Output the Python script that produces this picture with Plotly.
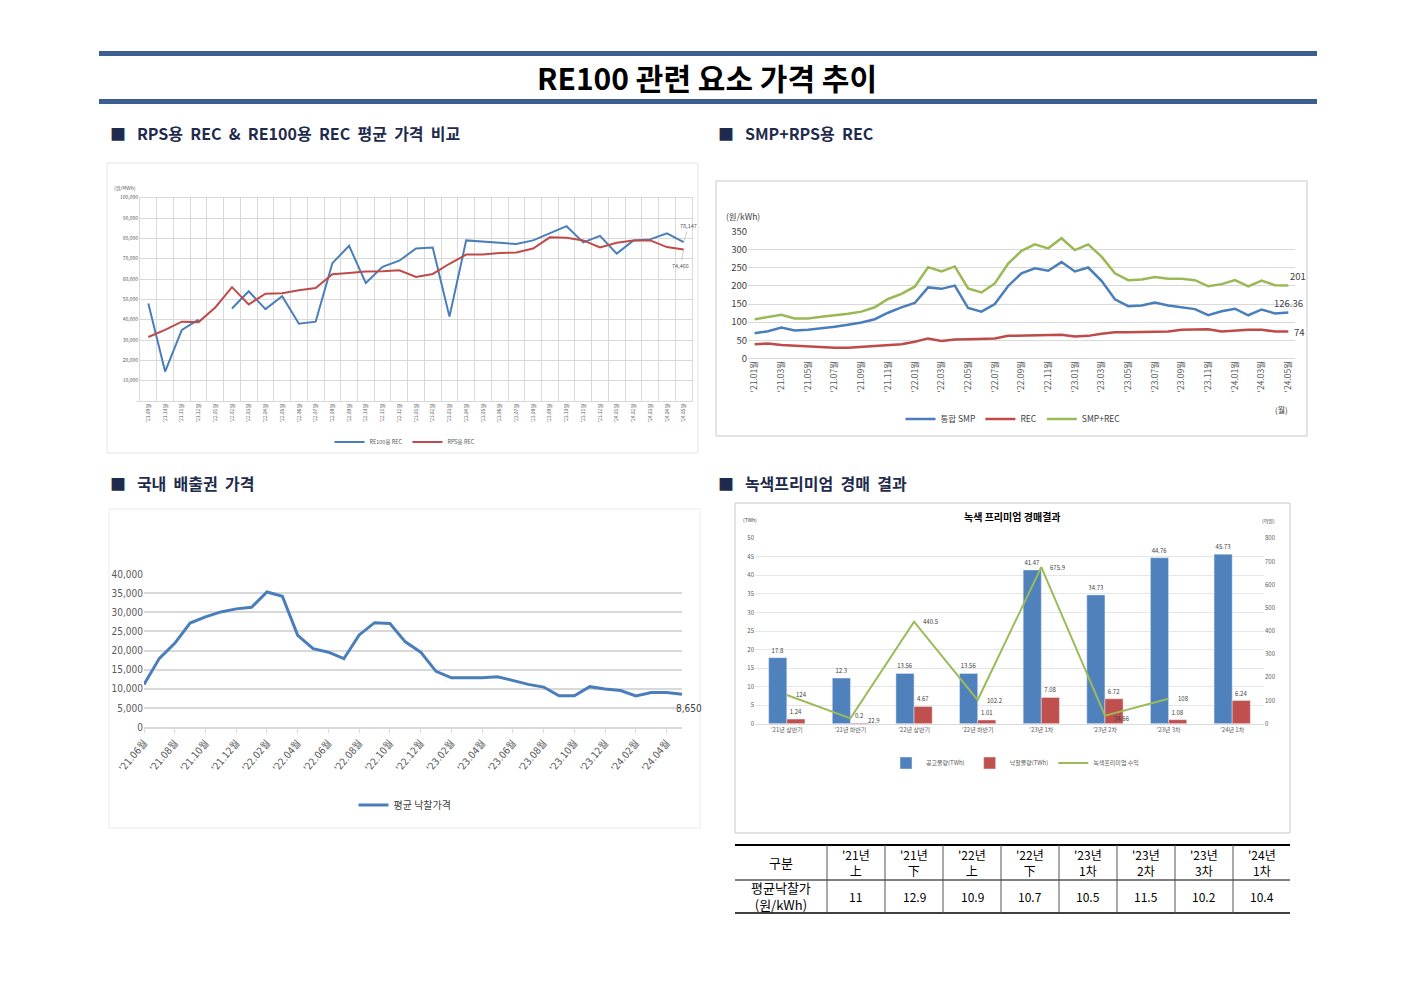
import plotly.graph_objects as go

W, H = 1403, 992


def fx(x):
    return x / W


def fy(y):
    return 1 - y / H


def month_labels(year, month, n, suffix="월"):
    out = []
    for i in range(n):
        out.append("'%02d.%02d%s" % (year, month, suffix))
        month += 1
        if month > 12:
            month = 1
            year += 1
    return out


# --- RPS용 REC & RE100용 REC (원/MWh), '21.09 ~ '24.05
rec_months = month_labels(21, 9, 33)
rec_re100 = [48000, 14500, 35000, 40000, None, 45500, 54000, 45200, 51500, 38000,
             39000, 67800, 76300, 58000, 66000, 69000, 75000, 75500, 41500, 79000,
             78500, 77800, 77200, 79000, 82500, 86000, 78000, 81200, 72500, 79000,
             79500, 82500, 78147]
rec_rps = [31500, 35000, 39000, 38800, 46000, 56000, 47500, 52800, 53000, 54500,
           55600, 62300, 63000, 63700, 63800, 64300, 61000, 62500, 67500, 72000,
           72000, 72800, 73000, 75000, 80500, 80300, 79000, 75500, 77800, 79000,
           79000, 75700, 74466]

# --- SMP + RPS REC (원/kWh), '21.01 ~ '24.05
smp_months = month_labels(21, 1, 41)
smp = [69, 75, 85, 77, 79, 82, 87, 93, 99, 108,
       126, 141, 153, 196, 192, 201, 139, 129, 150, 200,
       235, 249, 242, 266, 240, 251, 214, 163, 144, 146,
       154, 146, 141, 136, 119, 130, 137, 119, 135, 124, 126.36]
rec_price = [39, 41, 37, 35, 32, 32, 29, 29, 32, 34,
             38, 39, 46, 55, 48, 52, 53, 54, 55, 62,
             63, 63, 63, 65, 60, 62, 68, 72, 72, 72,
             72, 74, 79, 79, 80, 74, 77, 79, 79, 74, 74]
smp_rec = [108, 115, 120, 110, 110, 115, 118, 123, 129, 141,
           164, 178, 198, 252, 240, 254, 193, 182, 207, 262,
           297, 315, 304, 332, 299, 315, 281, 235, 216, 218,
           225, 220, 220, 216, 199, 205, 216, 199, 215, 202, 201]

# --- 국내 배출권 평균 낙찰가격, '21.06 ~ '24.05
kau_months = month_labels(21, 6, 36)
kau_price = [11200, 18000, 21900, 27200, 28800, 30100, 30900, 31300, 35300, 34200,
             24000, 20500, 19600, 17900, 24100, 27300, 27100, 22300, 19600, 14600,
             12900, 12900, 12900, 13200, 12100, 11200, 10500, 8200, 8200, 10600,
             10000, 9600, 8200, 9100, 9100, 8650]

# --- 녹색프리미엄 경매결과
gp_rounds = ["'21년 상반기", "'21년 하반기", "'22년 상반기", "'22년 하반기",
             "'23년 1차", "'23년 2차", "'23년 3차", "'24년 1차"]
gp_notice = [17.8, 12.3, 13.56, 13.56, 41.47, 34.73, 44.76, 45.73]
gp_awarded = [1.24, 0.2, 4.67, 1.01, 7.08, 6.72, 1.08, 6.24]
gp_revenue = [124, 22.9, 440.5, 102.2, 675.9, 34.66, 108, None]

# table under the green premium chart
tbl_corner = "구분"
tbl_row = "평균낙찰가<br>(원/kWh)"
tbl_head = ["'21년<br>上", "'21년<br>下", "'22년<br>上", "'22년<br>下",
            "'23년<br>1차", "'23년<br>2차", "'23년<br>3차", "'24년<br>1차"]
tbl_price = [11, 12.9, 10.9, 10.7, 10.5, 11.5, 10.2, 10.4]

FONT = "Noto Sans CJK KR"
NARROW = "Liberation Sans Narrow, DejaVu Sans Condensed, Noto Sans CJK KR"
BLUE = "#4a7ebb"
RED = "#be4b48"
GREEN = "#98b954"
NAVY = "#1f2b4d"
GRID = "#d9d9d9"
TICK = "#595959"

fig = go.Figure()

# top-left
fig.add_trace(go.Scatter(x=rec_months, y=rec_re100, name="RE100용 REC", mode="lines",
                         line=dict(color=BLUE, width=2), connectgaps=False,
                         xaxis="x", yaxis="y", legend="legend"))
fig.add_trace(go.Scatter(x=rec_months, y=rec_rps, name="RPS용 REC", mode="lines",
                         line=dict(color=RED, width=2),
                         xaxis="x", yaxis="y", legend="legend"))

# top-right
fig.add_trace(go.Scatter(x=smp_months, y=smp, name="통합 SMP", mode="lines",
                         line=dict(color=BLUE, width=2.5),
                         xaxis="x2", yaxis="y2", legend="legend2"))
fig.add_trace(go.Scatter(x=smp_months, y=rec_price, name="REC", mode="lines",
                         line=dict(color=RED, width=2.5),
                         xaxis="x2", yaxis="y2", legend="legend2"))
fig.add_trace(go.Scatter(x=smp_months, y=smp_rec, name="SMP+REC", mode="lines",
                         line=dict(color=GREEN, width=2.5),
                         xaxis="x2", yaxis="y2", legend="legend2"))

# bottom-left
fig.add_trace(go.Scatter(x=kau_months, y=kau_price, name="평균 낙찰가격", mode="lines",
                         line=dict(color=BLUE, width=3),
                         xaxis="x3", yaxis="y3", legend="legend3"))

# bottom-right
fig.add_trace(go.Bar(x=gp_rounds, y=gp_notice, name="공고물량(TWh)",
                     marker=dict(color="#4f81bd"), text=gp_notice, textposition="outside",
                     textfont=dict(size=6, color="#404040"), cliponaxis=False,
                     xaxis="x4", yaxis="y4", legend="legend4"))
fig.add_trace(go.Bar(x=gp_rounds, y=gp_awarded, name="낙찰물량(TWh)",
                     marker=dict(color="#c0504d"), text=gp_awarded, textposition="outside",
                     textfont=dict(size=6, color="#404040"), cliponaxis=False,
                     xaxis="x4", yaxis="y4", legend="legend4"))
fig.add_trace(go.Scatter(x=gp_rounds, y=gp_revenue, name="녹색프리미엄 수익", mode="lines",
                         line=dict(color="#9bbb59", width=2),
                         xaxis="x4", yaxis="y5", legend="legend4"))

ann = []
# page title and section headers
ann.append(dict(text="<b>RE100 관련 요소 가격 추이</b>", x=fx(707), y=fy(77),
                font=dict(size=30, color="black")))
sections = [("■   RPS용  REC  &  RE100용  REC  평균  가격  비교", 108, 133),
            ("■   SMP+RPS용  REC", 716, 133),
            ("■   국내  배출권  가격", 108, 483),
            ("■   녹색프리미엄  경매  결과", 716, 483)]
for txt, x, y in sections:
    ann.append(dict(text="<b>" + txt.replace("  ", "\u00a0\u00a0") + "</b>", x=fx(x), y=fy(y),
                    xanchor="left", font=dict(size=16, color=NAVY)))

# units and small labels
ann.append(dict(text="(원/MWh)", x=fx(112), y=fy(188), xanchor="left", font=dict(size=5, color=TICK)))
ann.append(dict(text="(원/kWh)", x=fx(724), y=fy(216), xanchor="left", font=dict(size=8.5, color="#404040")))
ann.append(dict(text="(월)", x=fx(1281), y=fy(409), font=dict(size=8, color="#404040")))
ann.append(dict(text="(TWh)", x=fx(741), y=fy(519), xanchor="left", font=dict(size=5, color="#404040")))
ann.append(dict(text="(억원)", x=fx(1268), y=fy(521), font=dict(size=5, color="#404040")))
ann.append(dict(text="<b>녹색 프리미엄 경매결과</b>", x=fx(1012), y=fy(516),
                font=dict(size=10, color="black")))

# green premium revenue labels, right of each point
rev_xshift = [7, 16, 7, 7, 7, 7, 7, 7]
rev_yshift = [0, -2, 0, 0, 0, -3, 0, 0]
for cat, v, dx, dy in zip(gp_rounds, gp_revenue, rev_xshift, rev_yshift):
    if v is None:
        continue
    ann.append(dict(text=str(v), x=cat, y=v, xref="x4", yref="y5", xanchor="left",
                    xshift=dx, yshift=dy, font=dict(size=6, color="#404040")))

# end-of-series labels
ann.append(dict(text=f"{rec_re100[-1]:,}", x=rec_months[-1], y=rec_re100[-1], xref="x", yref="y",
                showarrow=True, arrowhead=0, arrowwidth=0.6, arrowcolor="#a6a6a6",
                ax=5, ay=-16, font=dict(size=5.5, color=TICK)))
ann.append(dict(text=f"{rec_rps[-1]:,}", x=rec_months[-1], y=rec_rps[-1], xref="x", yref="y",
                showarrow=True, arrowhead=0, arrowwidth=0.6, arrowcolor="#a6a6a6",
                ax=-3, ay=16, font=dict(size=5.5, color=TICK)))
ann.append(dict(text=str(smp_rec[-1]), x=smp_months[-1], y=smp_rec[-1], xref="x2", yref="y2",
                xanchor="left", xshift=0, yshift=10, font=dict(size=9.5, color="#404040")))
ann.append(dict(text=str(smp[-1]), x=smp_months[-1], y=smp[-1], xref="x2", yref="y2",
                yshift=10, font=dict(size=9.5, color="#404040")))
ann.append(dict(text=str(rec_price[-1]), x=smp_months[-1], y=rec_price[-1], xref="x2", yref="y2",
                xanchor="left", xshift=4, font=dict(size=9.5, color="#404040")))
ann.append(dict(text=f"{kau_price[-1]:,}", x=kau_months[-1], y=kau_price[-1], xref="x3", yref="y3",
                xshift=7, yshift=-14, font=dict(size=10, family=NARROW, color="#404040")))

# table text: first column 735-827, then 8 columns of 58 px
col_w = 58
col0 = 827
ann.append(dict(text=tbl_corner, x=fx(781), y=fy(862), font=dict(size=13, color="black")))
ann.append(dict(text=tbl_row, x=fx(781), y=fy(896), font=dict(size=13, color="black")))
for i, (head, val) in enumerate(zip(tbl_head, tbl_price)):
    cx = col0 + col_w * (i + 0.5)
    ann.append(dict(text=head, x=fx(cx), y=fy(862), font=dict(size=12, color="black")))
    ann.append(dict(text=str(val), x=fx(cx), y=fy(896), font=dict(size=12, color="black")))

for a in ann:
    a.setdefault("xref", "paper")
    a.setdefault("yref", "paper")
    a.setdefault("showarrow", False)
    a.setdefault("xanchor", "center")
    a.setdefault("yanchor", "middle")

shapes = []
for y0, y1 in [(51, 56), (99, 104)]:
    shapes.append(dict(type="rect", xref="paper", yref="paper", x0=fx(99), x1=fx(1317),
                       y0=fy(y1), y1=fy(y0), fillcolor="#3b5f8e", line=dict(width=0)))
frames = [((107, 163, 698, 453), "#e3e3e3"), ((716, 181, 1307, 436), "#c8c8c8"),
          ((109, 509, 700, 828), "#ececec"), ((735, 503, 1290, 833), "#c8c8c8")]
for (x0, y0, x1, y1), col in frames:
    shapes.append(dict(type="rect", xref="paper", yref="paper", x0=fx(x0), x1=fx(x1),
                       y0=fy(y1), y1=fy(y0), line=dict(color=col, width=1)))
# table rules
for y, w in [(845, 2), (880, 1), (913, 1.5)]:
    shapes.append(dict(type="line", xref="paper", yref="paper", x0=fx(735), x1=fx(1290),
                       y0=fy(y), y1=fy(y), line=dict(color="black", width=w)))
for i in range(len(tbl_head)):
    x = col0 + col_w * i
    shapes.append(dict(type="line", xref="paper", yref="paper", x0=fx(x), x1=fx(x),
                       y0=fy(913), y1=fy(845), line=dict(color="#555555", width=1)))

tl_ticks = list(range(0, 100001, 10000))

fig.update_layout(
    width=W, height=H, margin=dict(l=0, r=0, t=0, b=0),
    paper_bgcolor="white", plot_bgcolor="white",
    font=dict(family=FONT, color=TICK),
    bargap=0.43, bargroupgap=0,
    annotations=ann, shapes=shapes,
    xaxis=dict(domain=[fx(140), fx(692)], anchor="y", type="category", range=[-0.5, 32.5],
               tickangle=-90, tickfont=dict(size=5, color=TICK), tickson="boundaries",
               showgrid=True, gridcolor=GRID, ticks="", showline=True, linecolor=GRID,
               mirror=True, automargin=False),
    yaxis=dict(domain=[fy(401), fy(197.7)], anchor="x", range=[0, 100000],
               tickvals=tl_ticks, ticktext=["-"] + [f"{v:,}" for v in tl_ticks[1:]],
               tickfont=dict(size=5, color=TICK), gridcolor=GRID, zeroline=False,
               showline=True, linecolor=GRID, mirror=True, automargin=False),
    xaxis2=dict(domain=[fx(748), fx(1295)], anchor="y2", type="category", range=[-0.5, 40.5],
                tickvals=smp_months[::2], tickangle=-90, tickfont=dict(size=8.5, color=TICK),
                showgrid=False, showline=False, ticks="", automargin=False),
    yaxis2=dict(domain=[fy(358.3), fy(231.7)], anchor="x2", range=[0, 350], dtick=50,
                tickfont=dict(size=9.5, color="#404040"), gridcolor=GRID, zeroline=True,
                zerolinecolor=GRID, zerolinewidth=1, automargin=False),
    xaxis3=dict(domain=[fx(144), fx(682)], anchor="y3", type="category", range=[0, 35],
                tickvals=kau_months[::2], tickangle=-50, ticks="outside", ticklen=4,
                tickcolor=GRID, showline=True, linecolor=GRID, linewidth=2, showgrid=False,
                tickfont=dict(size=10, family=NARROW, color=TICK), automargin=False),
    yaxis3=dict(domain=[fy(727.3), fy(574)], anchor="x3", range=[0, 40000], dtick=5000,
                tickformat=",", tickfont=dict(size=10, family=NARROW, color=TICK),
                gridcolor=GRID, gridwidth=1.5, zeroline=False, automargin=False),
    xaxis4=dict(domain=[fx(755), fx(1264)], anchor="y4", type="category",
                tickfont=dict(size=6, color=TICK), showgrid=False, showline=True,
                linecolor=GRID, ticks="", automargin=False),
    yaxis4=dict(domain=[fy(723.7), fy(538.3)], anchor="x4", range=[0, 50], dtick=5,
                tickfont=dict(size=6, color=TICK), gridcolor="#e6e6e6", zeroline=False,
                automargin=False),
    yaxis5=dict(overlaying="y4", anchor="x4", side="right", range=[0, 800], dtick=100,
                tickfont=dict(size=6, color=TICK), showgrid=False, zeroline=False,
                automargin=False),
    legend=dict(orientation="h", x=fx(405), xanchor="center", y=fy(442), yanchor="middle",
                font=dict(size=5.5, color=TICK), bgcolor="rgba(0,0,0,0)", itemwidth=30),
    legend2=dict(orientation="h", x=fx(1013), xanchor="center", y=fy(419), yanchor="middle",
                 font=dict(size=8.5, color="#404040"), bgcolor="rgba(0,0,0,0)", itemwidth=30),
    legend3=dict(orientation="h", x=fx(405), xanchor="center", y=fy(805), yanchor="middle",
                 font=dict(size=10, color="#404040"), bgcolor="rgba(0,0,0,0)", itemwidth=30),
    legend4=dict(orientation="h", x=fx(1015), xanchor="center", y=fy(763), yanchor="middle",
                 font=dict(size=6, color=TICK), bgcolor="rgba(0,0,0,0)", itemwidth=30),
)

fig.write_html("out.html", config={"displayModeBar": False},
               post_script="document.body.style.margin='0';")
